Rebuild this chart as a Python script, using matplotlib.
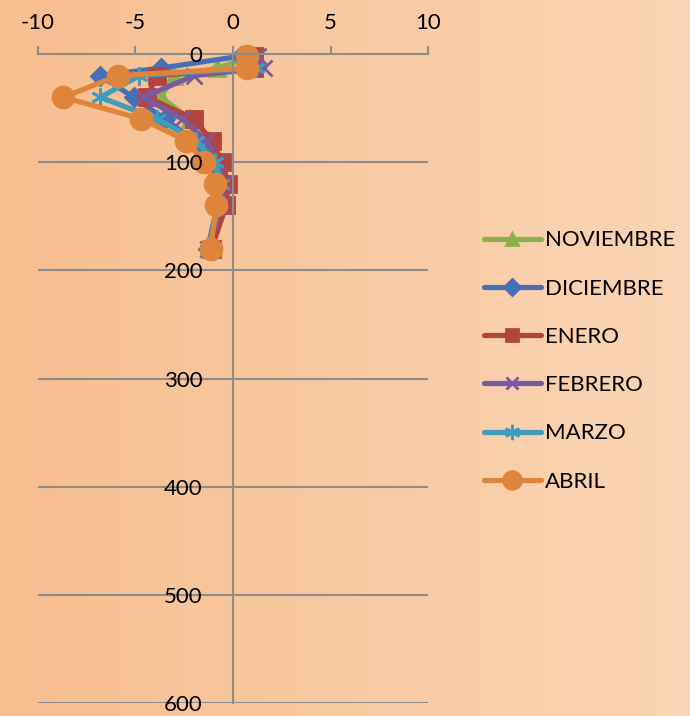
import matplotlib
matplotlib.use("Agg")
import matplotlib.pyplot as plt
import numpy as np

plt.rcParams['font.family'] = ['Lato', 'DejaVu Sans']
plt.rcParams['axes.unicode_minus'] = False

# depth (m) on the vertical axis, values on the horizontal axis
depth = [2, 13, 20, 40, 60, 80, 100, 120, 140, 180]

noviembre = [1.0, -0.8, -3.0, -3.7, -2.2, -1.3, -0.7, -0.5, -0.6, -1.2]
diciembre = [0.4, -3.7, -6.8, -5.1, -3.5, -2.0, -1.2, -0.8, -0.8, -1.3]
enero = [1.1, 1.1, -3.9, -4.4, -2.0, -1.1, -0.55, -0.25, -0.35, -1.1]
febrero = [1.3, 1.6, -2.0, -4.6, -2.6, -1.4, -0.8, -0.5, -0.6, -1.3]
marzo = [0.8, 1.2, -4.8, -6.8, -3.9, -1.9, -0.9, -0.6, -0.7, -1.3]
abril = [0.7, 0.7, -5.9, -8.7, -4.7, -2.4, -1.5, -0.9, -0.85, -1.15]

names = ['NOVIEMBRE', 'DICIEMBRE', 'ENERO', 'FEBRERO', 'MARZO', 'ABRIL']
series = [noviembre, diciembre, enero, febrero, marzo, abril]
colors = ['#8DB04F', '#4570B6', '#B24440', '#7A5A9E', '#3F9DBB', '#DF843B']
markers = ['^', 'D', 's', 'x', (6, 2, 0), 'o']
msizes = [11, 9, 11, 11, 13, 15]

fig = plt.figure(figsize=(6.9, 7.16), dpi=100)

# orange gradient background
bg = fig.add_axes([0, 0, 1, 1], zorder=-10)
grad = np.linspace(0, 1, 256).reshape(1, -1)
c0 = np.array([247, 190, 143]) / 255
c1 = np.array([251, 213, 181]) / 255
img = c0[None, None, :] * (1 - grad[..., None]) + c1[None, None, :] * grad[..., None]
bg.imshow(img, aspect='auto', extent=[0, 1, 0, 1])
bg.axis('off')

ax = fig.add_axes([38 / 690, 1 - 703 / 716, 390 / 690, 649 / 716])
ax.patch.set_alpha(0)

for name, vals, c, m, ms in zip(names, series, colors, markers, msizes):
    ax.plot(vals, depth, color=c, lw=3.75, marker=m, ms=ms, mew=2,
            mec=c, mfc=c, label=name, solid_joinstyle='round',
            solid_capstyle='round', clip_on=False, zorder=2)

ax.set_xlim(-10, 10)
ax.set_ylim(600, 0)
ax.set_xticks([-10, -5, 0, 5, 10])
ax.set_yticks([0, 100, 200, 300, 400, 500, 600])

# gridlines under the series, tick labels above them
for yv in ax.get_yticks()[1:]:
    ax.axhline(yv, color='#8c8c8c', lw=1.5, zorder=1)
ax.set_axisbelow(False)

ax.xaxis.tick_top()
ax.spines['top'].set_color('#8c8c8c')
ax.spines['top'].set_linewidth(1.5)
ax.spines['left'].set_position(('data', 0))
ax.spines['left'].set_color('#8c8c8c')
ax.spines['left'].set_linewidth(1.5)
ax.spines['right'].set_visible(False)
ax.spines['bottom'].set_visible(False)

ax.tick_params(axis='x', direction='out', length=6, width=1.5, color='#8c8c8c',
               labelsize=16, pad=9)
ax.tick_params(axis='y', direction='out', length=0, labelsize=16, pad=22)

fig.legend(loc='center left', bbox_to_anchor=(464 / 690, 1 - 361 / 716),
           frameon=False, fontsize=16, handlelength=2.55, labelspacing=1.27,
           handletextpad=0.2, markerscale=0.85)

fig.savefig('out.png', dpi=100)
